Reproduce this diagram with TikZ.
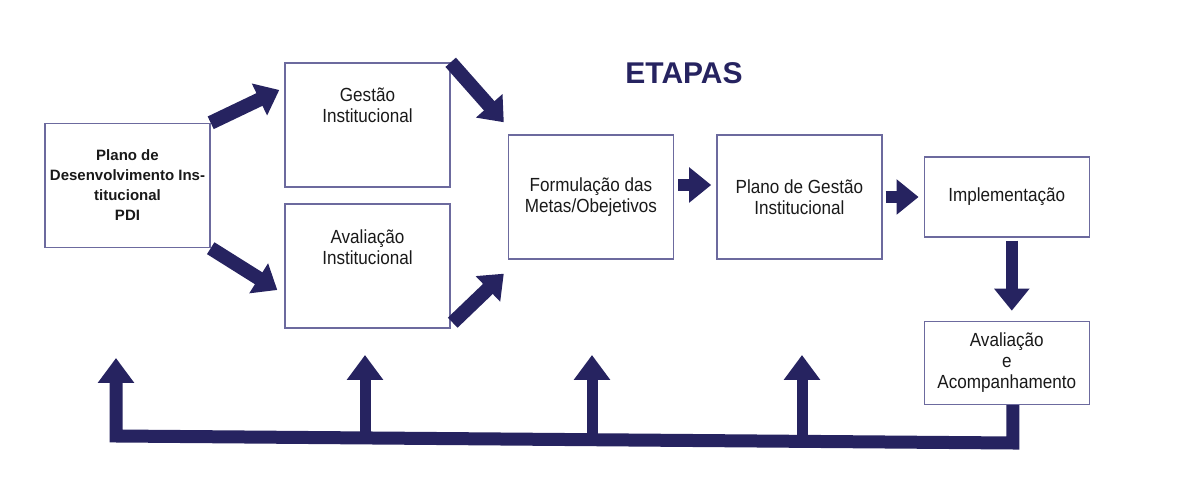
\documentclass[tikz,border=0pt]{standalone}
\usepackage{fontspec}
\setmainfont{Liberation Sans}
\newfontfamily\narrowsf{Liberation Sans}[FakeStretch=0.9]
\usetikzlibrary{arrows.meta,positioning}
\definecolor{navy}{RGB}{38,35,96}
\definecolor{boxline}{RGB}{108,106,158}
\begin{document}
\begin{tikzpicture}[x=0.5pt,y=-0.5pt]
        \tikzstyle{main}=[rectangle, draw=boxline, line width=0.7pt, minimum width=82.5pt, minimum height=62pt, inner sep=0pt, align=center, text=black!90, font=\narrowsf\fontsize{9.5}{10.5}\selectfont]
        \tikzstyle{toptext}=[anchor=north, yshift=-9.5pt, align=center, text=black!90, font=\narrowsf\fontsize{9.5}{10.5}\selectfont]
        \tikzstyle{connect}=[navy, line width=6pt, -{Triangle[length=11pt,width=17pt]}]
        \tikzstyle{feedback}=[navy, line width=6.5pt, line join=miter, -{Triangle[length=12.5pt,width=17.5pt]}]
        \useasboundingbox (0,0) rectangle (1184,480);
        \node[text=navy, font=\bfseries\fontsize{15}{18}\selectfont] (title) at (684,73) {ETAPAS};
        \node[main, font=\bfseries\fontsize{7.5}{10}\selectfont] (pdi) at (127.5,185.5) {Plano de\\Desenvolvimento Ins-\\titucional\\PDI};
        \node[main] (gestao) at (367.5,125) [label={[toptext]north:Gestão\\Institucional}] {};
        \node[main] (avalinst) at (367.5,266) [label={[toptext]north:Avaliação\\Institucional}] {};
        \node[main] (formul) at (591,197) {Formulação das\\Metas/Obejetivos};
        \node[main] (plano) [right=21pt of formul] {Plano de Gestão\\Institucional};
        \node[main, minimum height=40pt] (implem) [right=20.5pt of plano] {Implementação};
        \node[main, minimum height=41.5pt] (avalacomp) [below=41.5pt of implem] {Avaliação\\e\\Acompanhamento};
        \draw[connect, line width=7pt] (pdi.north east) -- ([shift={(-5,-35)}]gestao.west);
        \draw[connect, line width=7pt] (pdi.south east) -- ([shift={(-7,24)}]avalinst.west);
        \draw[connect, line width=7pt] (gestao.north east) -- ([shift={(-4,-12)}]formul.north west);
        \draw[connect, line width=7pt] ([shift={(2,-6)}]avalinst.south east) -- ([shift={(-4,14)}]formul.south west);
        \draw[connect] ([shift={(4,-12)}]formul.east) -- ([shift={(-5,-12)}]plano.west);
        \draw[connect] ([xshift=1.5pt]plano.east) -- ([xshift=-2.5pt]implem.west);
        \draw[connect] ([shift={(5,3)}]implem.south) -- ([shift={(5,-10)}]avalacomp.north);
        \coordinate (fbtop) at ([xshift=3pt]avalacomp.south);
        \coordinate (fbline) at (0,443);
        \coordinate (fbR) at (fbtop |- fbline);
        \coordinate (fbL) at (116,436);
        \coordinate (fbtip) at (116,358);
        \draw[feedback] (fbtop) -- (fbR) -- (fbL) -- (fbtip);
        \foreach \x [count=\i] in {365,592,802} {
          \coordinate (fbbase\i) at (\x,440);
          \coordinate (fbup\i) at (\x,355);
          \draw[feedback, line width=5.5pt] (fbbase\i) -- (fbup\i);
        }
\end{tikzpicture}
\end{document}
